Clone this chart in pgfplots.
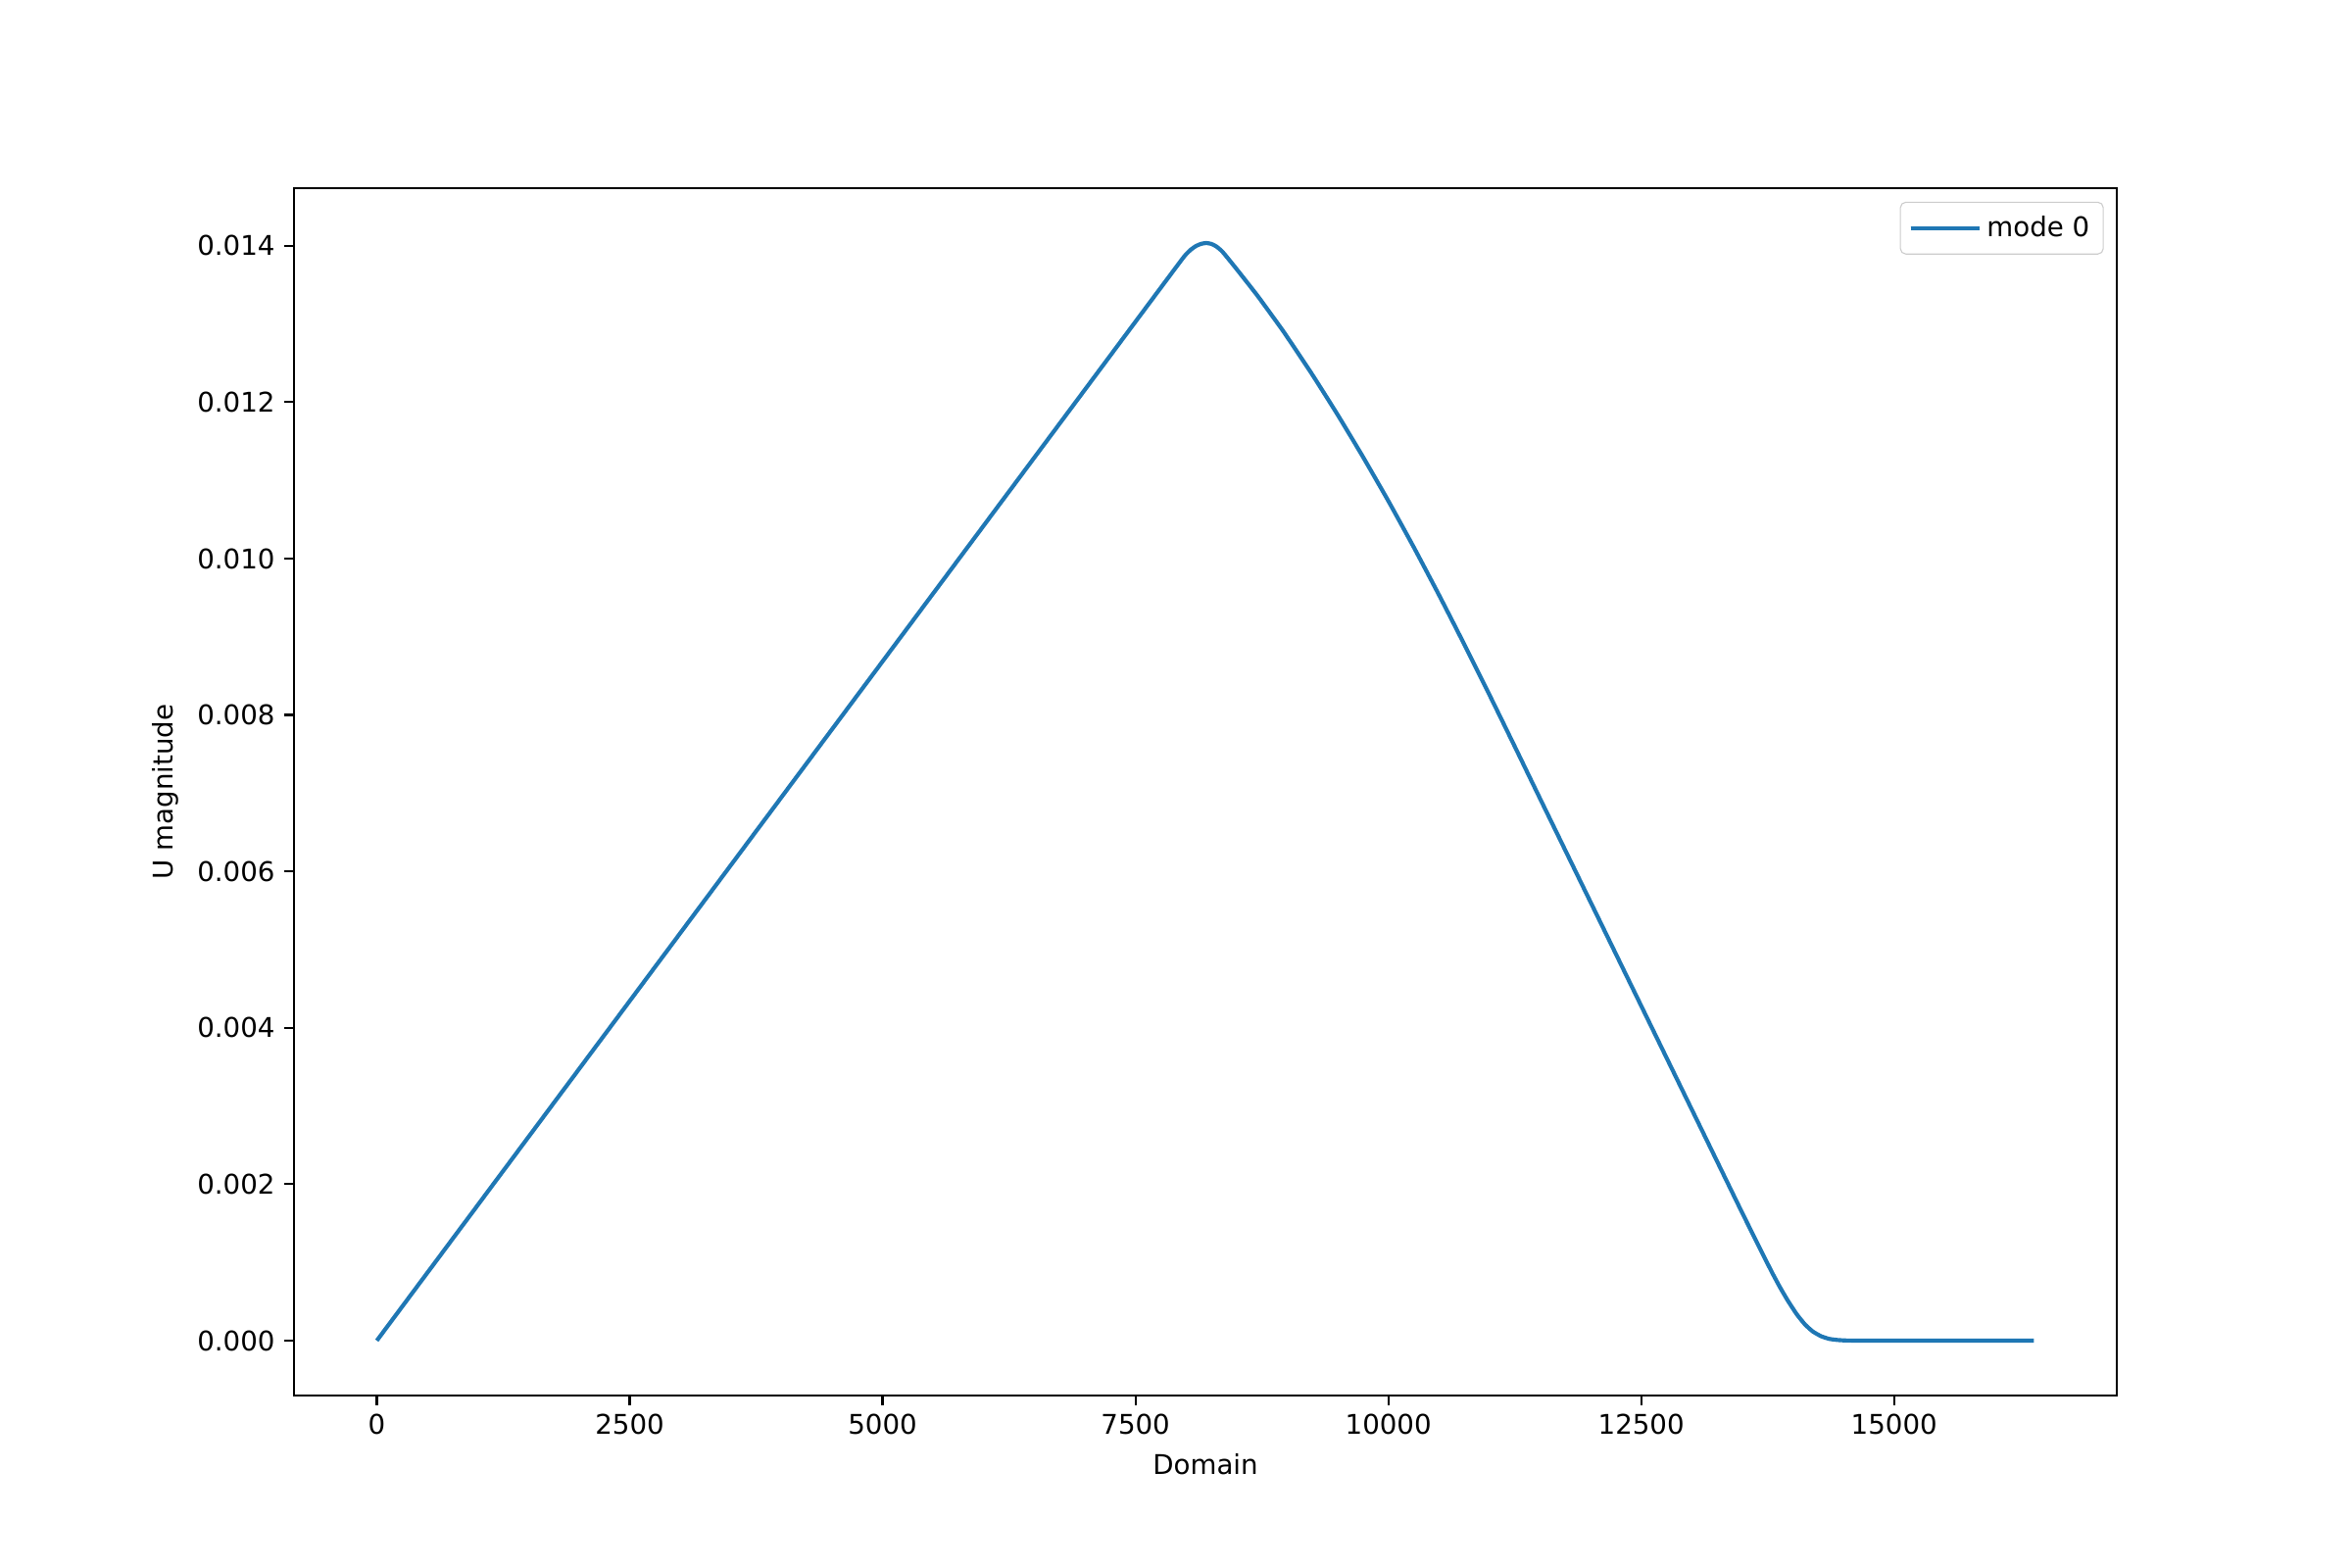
\documentclass[border=0pt]{standalone}
\usepackage{fontspec}
\setmainfont{DejaVu Sans}
\usepackage{pgfplots}
\pgfplotsset{compat=1.18}
\definecolor{mplblue}{HTML}{1F77B4}

\begin{document}
\begin{tikzpicture}
\path[use as bounding box] (0,0) rectangle (12in,8in);
\begin{axis}[
    at={(1.5in,0.88in)}, anchor=south west,
    scale only axis, width=9.3in, height=6.16in,
    xmin=-819, xmax=17202,
    ymin=-0.000702, ymax=0.014736,
    xtick={0,2500,5000,7500,10000,12500,15000},
    ytick={0,0.002,0.004,0.006,0.008,0.010,0.012,0.014},
    scaled x ticks=false, scaled y ticks=false,
    xtick pos=bottom, ytick pos=left,
    tick align=outside,
    major tick length=3.5pt,
    every tick/.style={black, line width=0.8pt},
    axis line style={line width=0.8pt},
    /pgf/number format/assume math mode=true,
    xticklabel style={/pgf/number format/set thousands separator={}},
    yticklabel style={/pgf/number format/fixed, /pgf/number format/fixed zerofill,
        /pgf/number format/precision=3},
    xlabel={Domain},
    ylabel={U magnitude},
    legend style={at={(1,1)}, anchor=north east, xshift=-4.8pt, yshift=-5pt,
        draw=black!20, rounded corners=2pt, fill=white,
        inner xsep=3pt, inner ysep=3pt},
    legend image code/.code={
        \draw[mplblue, line width=1.5pt] (0pt,0pt) -- (21.6pt,0pt);
        \path (0pt,0pt) -- (25.4pt,0pt);},
    legend cell align=left,
]
\addplot[mplblue, line width=1.5pt, smooth, tension=0.3] coordinates {
    (0,0) (2000,0.003474) (4000,0.006948) (6000,0.010422) (7000,0.012159)
    (7500,0.013028) (7800,0.013549) (7958,0.013823) (8000,0.013890)
    (8050,0.013952) (8100,0.013997) (8150,0.014024) (8200,0.014034)
    (8250,0.014023) (8300,0.013990) (8350,0.013936) (8383,0.013888)
    (8500,0.013701) (8706,0.013361) (8933,0.012958) (9000,0.012833)
    (9250,0.012348) (9500,0.011836) (9750,0.011298) (10000,0.010736)
    (10250,0.010148) (10500,0.009536) (10750,0.008904) (11000,0.008256)
    (11250,0.007596) (11500,0.006930) (12000,0.005605) (12500,0.004280)
    (13000,0.002955) (13309,0.002136) (13500,0.001630) (13700,0.001110)
    (13800,0.000855) (13875,0.000675) (13950,0.000510) (14036,0.000340)
    (14120,0.000205) (14198,0.000115) (14280,0.000055) (14359,0.000022)
    (14440,0.000008) (14521,0.000002) (14650,0.000000) (15500,0.000000)
    (16383,0.000000)
};
\addlegendentry{mode 0}
\end{axis}
\end{tikzpicture}
\end{document}
